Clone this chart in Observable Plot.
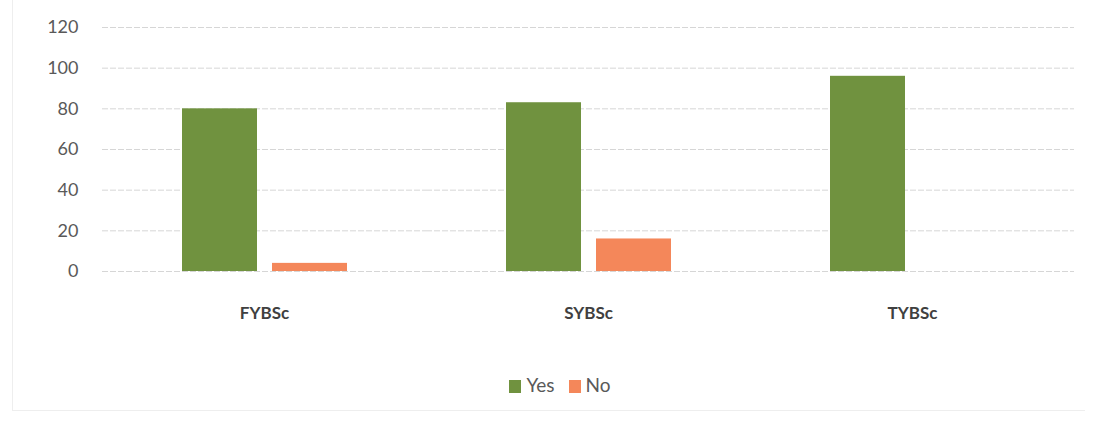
<!DOCTYPE html>
<html>
<head>
<meta charset="utf-8">
<script src="https://cdn.jsdelivr.net/npm/d3@7"></script>
<script src="https://cdn.jsdelivr.net/npm/@observablehq/plot@0.6"></script>
<style>
  body { margin: 0; background: #fff; font-family: Lato, "Open Sans", sans-serif; }
  #frame { position: relative; width: 1094px; height: 427px; }
  #legend { display: flex; justify-content: center; align-items: center; gap: 14px; margin-top: 33px; padding-left: 26px; font-size: 19px; color: #595959; }
  #legend span.sw { display: inline-block; width: 12px; height: 13px; margin-right: 5px; vertical-align: -1px; }
  #border { position: absolute; left: 12px; top: -2px; width: 1072px; height: 412px; border-left: 1px solid #eee; border-bottom: 1px solid #eee; pointer-events: none; }
</style>
</head>
<body>
<div id="frame">
  <div id="chart"></div>
  <div id="legend"></div>
  <div id="border"></div>
</div>
<script>
const categories = ["FYBSc", "SYBSc", "TYBSc"];
const series = ["Yes", "No"];
const yesValues = [80, 83, 96];
const noValues = [4, 16, 0];
const colors = ["#70923f", "#f4875a"];
const yTicks = [0, 20, 40, 60, 80, 100, 120];

const data = [];
categories.forEach((c, i) => {
  data.push({category: c, series: "Yes", value: yesValues[i]});
  data.push({category: c, series: "No", value: noValues[i]});
});

const chart = Plot.plot({
  width: 1094,
  height: 340,
  marginTop: 27,
  marginBottom: 69,
  marginLeft: 102,
  marginRight: 20,
  style: {fontFamily: "Lato, 'Open Sans', sans-serif", background: "transparent"},
  fx: {domain: categories, padding: 0, label: null, axis: null},
  x: {domain: series, paddingInner: 0.167, paddingOuter: 0.883, axis: null},
  y: {domain: [0, 120], ticks: yTicks, label: null},
  color: {domain: series, range: colors},
  marks: [
    Plot.gridY(yTicks, {stroke: "#d6d6d6", strokeOpacity: 1, strokeWidth: 1, strokeDasharray: "6,2"}),
    Plot.axisY(yTicks, {tickSize: 0, tickPadding: 24, fontSize: 18, fill: "#595959", label: null, tickFormat: d => d}),
    Plot.barY(data, {fx: "category", x: "series", y: "value", fill: "series"}),
    Plot.axisFx({anchor: "bottom", tickSize: 0, tickPadding: 35, fontSize: 17, fontWeight: "bold", fill: "#404040", label: null})
  ]
});
document.getElementById("chart").appendChild(chart);

const legend = document.getElementById("legend");
series.forEach((s, i) => {
  const item = document.createElement("div");
  const sw = document.createElement("span");
  sw.className = "sw";
  sw.style.background = colors[i];
  item.appendChild(sw);
  item.appendChild(document.createTextNode(s));
  legend.appendChild(item);
});
</script>
</body>
</html>
